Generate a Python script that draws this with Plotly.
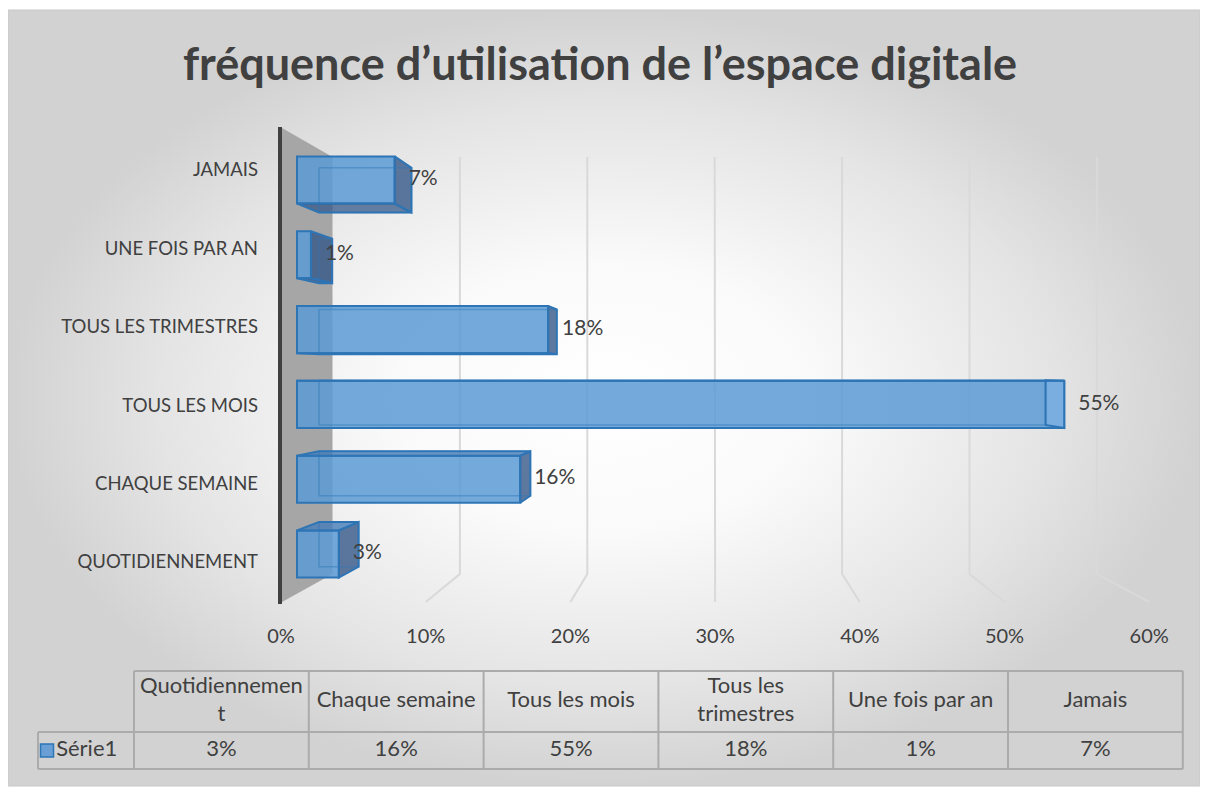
import plotly.graph_objects as go

# data
categories = ["Quotidiennement", "Chaque semaine", "Tous les mois",
              "Tous les trimestres", "Une fois par an", "Jamais"]
values = [0.03, 0.16, 0.55, 0.18, 0.01, 0.07]
axis_labels = ["QUOTIDIENNEMENT", "CHAQUE SEMAINE", "TOUS LES MOIS",
               "TOUS LES TRIMESTRES", "UNE FOIS PAR AN", "JAMAIS"]
header_labels = ["Quotidiennemen<br>t", "Chaque semaine", "Tous les mois",
                 "Tous les<br>trimestres", "Une fois par an", "Jamais"]
x_ticks = [0, 0.1, 0.2, 0.3, 0.4, 0.5, 0.6]
series_name = "Série1"
title = "fréquence d’utilisation de l’espace digitale"

# page is 1208x794, body has an 8px margin -> figure is 1200x786
PAGE_W, PAGE_H, OFF = 1208, 794, 8
W, H = PAGE_W - OFF, PAGE_H - OFF
FONT = "Lato"
TXT = "#404040"

# page-pixel geometry of the fake 3D scene
BX0, BXS = 297, 1395      # bar plane: px = BX0 + BXS * value
BY0, BYS = 554, 74.8      # bar plane: py = BY0 - BYS * index
FX0, FXS = 281, 1447      # front plane (tick labels, floor edge)
KX0, KXS = 332.5, 1274    # back wall
LY0, LYS = 562, 78.4      # category label plane
WALL_TOP, FLOOR_BACK, FLOOR_FRONT = 157, 574, 602
VPX, VPY, DEPTH = 712, 372, 0.053
BAR_H = 0.63

idx = list(range(len(categories)))


def to_bx(px):
    return (px - BX0) / BXS


def to_by(py):
    return (BY0 - py) / BYS


def back(px, py):
    return px + DEPTH * (VPX - px), py + DEPTH * (VPY - py)


fig = go.Figure()

# ---- base layer (page pixel coordinates) ----
fig.add_trace(go.Scatter(
    x=[8, 1200, 1200, 8, 8], y=[10, 10, 786, 786, 10],
    mode="lines", fill="toself",
    fillgradient=dict(type="radial",
                      colorscale=[[0, "#ffffff"], [0.35, "#fafafa"],
                                  [0.75, "#e4e4e4"], [1, "#d2d2d2"]]),
    line=dict(color="#c8c8c8", width=1), hoverinfo="skip", showlegend=False
))

# back wall gridlines
gx, gy = [], []
for t in x_ticks[1:]:
    bx = KX0 + KXS * t
    fx = FX0 + FXS * t
    gx += [bx, bx, fx, None]
    gy += [WALL_TOP, FLOOR_BACK, FLOOR_FRONT, None]
fig.add_trace(go.Scatter(x=gx, y=gy, mode="lines",
                         line=dict(color="#d9d9d9", width=2),
                         hoverinfo="skip", showlegend=False))

# side wall
fig.add_trace(go.Scatter(
    x=[282, KX0, KX0, 282, 282], y=[128, WALL_TOP, FLOOR_BACK, FLOOR_FRONT, 128],
    mode="lines", fill="toself", fillcolor="#a6a6a6",
    line=dict(width=0), hoverinfo="skip", showlegend=False
))
fig.add_trace(go.Scatter(x=[280, 280], y=[127, 604], mode="lines",
                         line=dict(color="#404040", width=4),
                         hoverinfo="skip", showlegend=False))

# data table
T_LEFT, ROWHEAD_W, COL_W = 38, 96, 174.8
T_TOP, T_MID, T_BOT = 671, 732, 769
edges = [T_LEFT, T_LEFT + ROWHEAD_W] + [T_LEFT + ROWHEAD_W + COL_W * (k + 1)
                                        for k in range(len(categories))]
tx = [edges[1], edges[-1], None, edges[0], edges[-1], None, edges[0], edges[-1], None,
      edges[0], edges[0], None]
ty = [T_TOP, T_TOP, None, T_MID, T_MID, None, T_BOT, T_BOT, None, T_MID, T_BOT, None]
for e in edges[1:]:
    tx += [e, e, None]
    ty += [T_TOP, T_BOT, None]
fig.add_trace(go.Scatter(x=tx, y=ty, mode="lines",
                         line=dict(color="#ababab", width=2),
                         hoverinfo="skip", showlegend=False))

centers = [(edges[k + 1] + edges[k + 2]) / 2 for k in range(len(categories))]
fig.add_trace(go.Scatter(
    x=centers, y=[(T_TOP + T_MID) / 2] * len(centers), mode="text",
    text=header_labels, textposition="middle center",
    textfont=dict(family=FONT, size=22, color=TXT),
    hoverinfo="skip", showlegend=False
))
fig.add_trace(go.Scatter(
    x=centers, y=[(T_MID + T_BOT) / 2] * len(centers), mode="text",
    text=[f"{round(v * 100)}%" for v in values], textposition="middle center",
    textfont=dict(family=FONT, size=22, color=TXT),
    hoverinfo="skip", showlegend=False
))
fig.add_trace(go.Scatter(
    x=[T_LEFT + 9], y=[(T_MID + T_BOT) / 2], mode="markers+text",
    marker=dict(symbol="square", size=13, color="#6a9fd6",
                line=dict(color="#2e75b6", width=1.5)),
    text=[series_name], textposition="middle right",
    textfont=dict(family=FONT, size=22, color=TXT),
    hoverinfo="skip", showlegend=False
))

# ---- bars (value axes) ----
fig.add_trace(go.Bar(
    x=values, y=idx, orientation="h", width=BAR_H,
    marker=dict(color="rgba(91,155,213,0.85)",
                line=dict(color="#2e75b6", width=2)),
    xaxis="x2", yaxis="y2", hoverinfo="skip", showlegend=False
))

faces = {"side": [[], []], "side_far": [[], []], "low": [[], []], "up": [[], []], "back": [[], []]}


def add_poly(key, pts):
    faces[key][0].extend([to_bx(p[0]) for p in pts] + [None])
    faces[key][1].extend([to_by(p[1]) for p in pts] + [None])


half = BAR_H / 2 * BYS
for i, v in zip(idx, values):
    L, R = BX0, BX0 + BXS * v
    T, B = BY0 - BYS * i - half, BY0 - BYS * i + half
    bTL, bTR, bBR, bBL = back(L, T), back(R, T), back(R, B), back(L, B)
    add_poly("side" if bTR[0] > R else "side_far", [(R, T), bTR, bBR, (R, B), (R, T)])
    if bBL[1] > B:
        add_poly("low", [(L, B), (R, B), bBR, bBL, (L, B)])
    if bTL[1] < T:
        add_poly("up", [(L, T), (R, T), bTR, bTL, (L, T)])
    add_poly("back", [bTL, bTR, bBR, bBL, bTL])

for key, col in [("side", "rgba(52,88,135,0.8)"),
                 ("side_far", "rgba(130,180,230,0.6)"),
                 ("low", "rgba(52,88,135,0.75)"),
                 ("up", "rgba(70,125,185,0.8)")]:
    fig.add_trace(go.Scatter(x=faces[key][0], y=faces[key][1], mode="lines",
                             fill="toself", fillcolor=col,
                             line=dict(color="#2e75b6", width=2),
                             xaxis="x2", yaxis="y2", hoverinfo="skip", showlegend=False))
fig.add_trace(go.Scatter(x=faces["back"][0], y=faces["back"][1], mode="lines",
                         line=dict(color="rgba(46,117,182,0.45)", width=1.5),
                         xaxis="x2", yaxis="y2", hoverinfo="skip", showlegend=False))

# data labels
fig.add_trace(go.Scatter(
    x=[v + 14 / BXS for v in values], y=idx, mode="text",
    text=[f"{round(v * 100)}%" for v in values], textposition="middle right",
    textfont=dict(family=FONT, size=21, color=TXT),
    xaxis="x2", yaxis="y2", hoverinfo="skip", showlegend=False
))

# axis label carrier
fig.add_trace(go.Scatter(x=[None], y=[None], xaxis="x3", yaxis="y3",
                         hoverinfo="skip", showlegend=False))

hidden = dict(visible=False, showgrid=False, zeroline=False, fixedrange=True)
fig.update_layout(
    width=W, height=H,
    margin=dict(l=0, r=0, t=0, b=0),
    paper_bgcolor="white", plot_bgcolor="rgba(0,0,0,0)",
    title=dict(text=title, x=(600 - OFF) / W, xanchor="center",
               y=1 - (64 - OFF) / H, yanchor="middle", yref="container",
               font=dict(family=FONT, size=45, color=TXT, weight="bold")),
    xaxis=dict(range=[OFF, PAGE_W], domain=[0, 1], **hidden),
    yaxis=dict(range=[PAGE_H, OFF], domain=[0, 1], **hidden),
    xaxis2=dict(range=[to_bx(OFF), to_bx(PAGE_W)], overlaying="x", anchor="y2", **hidden),
    yaxis2=dict(range=[to_by(PAGE_H), to_by(OFF)], overlaying="y", anchor="x2", **hidden),
    xaxis3=dict(range=[(OFF - FX0) / FXS, (PAGE_W - FX0) / FXS], overlaying="x",
                anchor="free", position=1 - (622 - OFF) / H, side="bottom",
                tickvals=x_ticks, tickformat=".0%", ticks="",
                showgrid=False, zeroline=False, showline=False,
                tickfont=dict(family=FONT, size=20, color=TXT)),
    yaxis3=dict(range=[(LY0 - PAGE_H) / LYS, (LY0 - OFF) / LYS], overlaying="y",
                anchor="free", position=(258 - OFF) / W, side="left",
                tickvals=idx, ticktext=axis_labels, ticks="",
                showgrid=False, zeroline=False, showline=False,
                tickfont=dict(family=FONT, size=18.5, color=TXT)),
)

fig.write_html("out.html")
